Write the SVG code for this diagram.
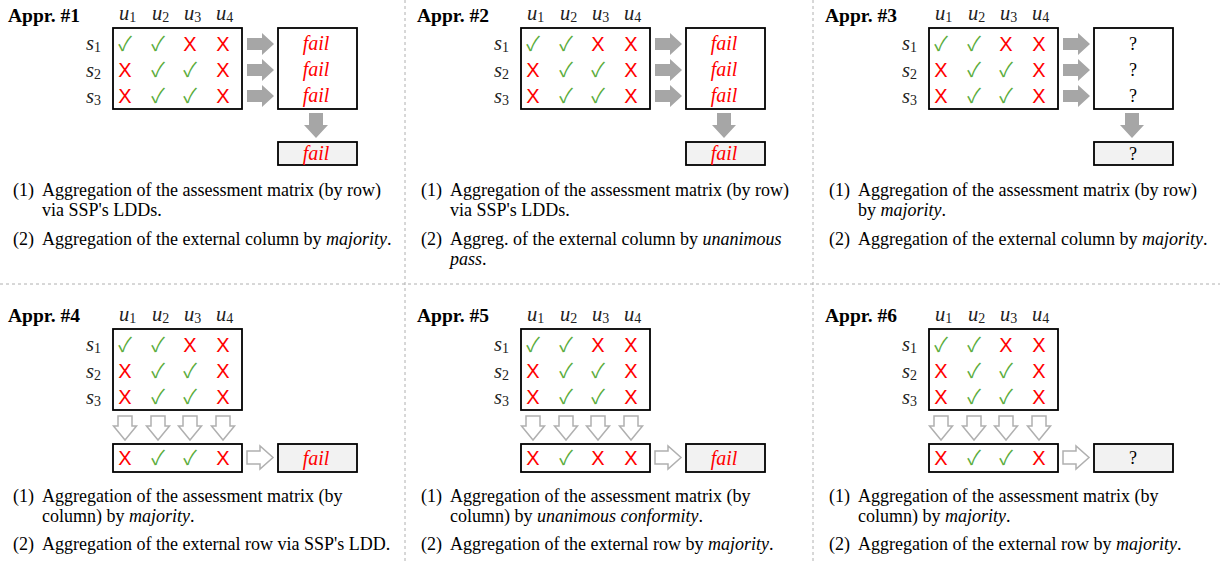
<svg xmlns="http://www.w3.org/2000/svg" width="1220" height="563" viewBox="0 0 1220 563">
<style>
.title{font-family:"Liberation Serif",serif;font-weight:bold;font-size:19.5px;fill:#000}
.var{font-family:"Liberation Serif",serif;font-style:italic;font-size:20.5px;fill:#222}
.sub{font-style:normal;font-size:14px}
.ok{font-family:"Noto Sans CJK JP","DejaVu Sans",sans-serif;font-size:20px;fill:#5aac3c;text-anchor:middle}
.no{font-family:"Liberation Sans",sans-serif;font-size:20px;fill:#ff0000;text-anchor:middle}
.fail{font-family:"Liberation Serif",serif;font-style:italic;font-size:20px;fill:#ff0000;text-anchor:middle}
.q{font-family:"Liberation Serif",serif;font-size:18px;fill:#000;text-anchor:middle}
.cap{font-family:"Liberation Serif",serif;font-size:18px;fill:#000}
.box{fill:#fff;stroke:#000;stroke-width:1.8}
.res{fill:#f2f2f2;stroke:#000;stroke-width:1.8}
.fa{fill:#a6a6a6;stroke:none}
.ha{fill:#fff;stroke:#b0b0b0;stroke-width:1.5}
.div{stroke:#b0b0b0;stroke-width:1;stroke-dasharray:3 3;fill:none}
</style>
<defs>
<g id="hdr">
<text class="var" x="119" y="20">u<tspan class="sub" dy="2">1</tspan></text>
<text class="var" x="152" y="20">u<tspan class="sub" dy="2">2</tspan></text>
<text class="var" x="184" y="20">u<tspan class="sub" dy="2">3</tspan></text>
<text class="var" x="216" y="20">u<tspan class="sub" dy="2">4</tspan></text>
<text class="var" x="86" y="50">s<tspan class="sub" dy="2">1</tspan></text>
<text class="var" x="86" y="77">s<tspan class="sub" dy="2">2</tspan></text>
<text class="var" x="86" y="103">s<tspan class="sub" dy="2">3</tspan></text>
</g>
<g id="matrix">
<rect class="box" x="113" y="28" width="129" height="81"/>
<text class="ok" x="125" y="51">✓</text><text class="ok" x="158" y="51">✓</text><text class="no" x="190" y="51">X</text><text class="no" x="223" y="51">X</text>
<text class="no" x="125" y="77">X</text><text class="ok" x="158" y="77">✓</text><text class="ok" x="190" y="77">✓</text><text class="no" x="223" y="77">X</text>
<text class="no" x="125" y="103">X</text><text class="ok" x="158" y="103">✓</text><text class="ok" x="190" y="103">✓</text><text class="no" x="223" y="103">X</text>
</g>
<g id="rarrows">
<polygon class="fa" points="247,38 262,38 262,33 274,44 262,55 262,50 247,50"/>
<polygon class="fa" points="247,64 262,64 262,59 274,70 262,81 262,76 247,76"/>
<polygon class="fa" points="247,90 262,90 262,85 274,96 262,107 262,102 247,102"/>
<polygon class="fa" points="309,113 323,113 323,125 328,125 316,138 304,125 309,125"/>
</g>
<g id="darrows">
<polygon class="ha" points="118,416 132,416 132,426 136.5,426 125,440 113.5,426 118,426"/>
<polygon class="ha" points="151,416 165,416 165,426 169.5,426 158,440 146.5,426 151,426"/>
<polygon class="ha" points="183,416 197,416 197,426 201.5,426 190,440 178.5,426 183,426"/>
<polygon class="ha" points="216,416 230,416 230,426 234.5,426 223,440 211.5,426 216,426"/>
<polygon class="ha" points="247,451 260,451 260,446 273,457.5 260,469 260,464 247,464"/>
</g>
</defs>

<g id="dividers">
<line class="div" x1="405" y1="0" x2="405" y2="563"/>
<line class="div" x1="813" y1="0" x2="813" y2="563"/>
<line class="div" x1="0" y1="284" x2="1220" y2="284"/>
</g>

<!-- Appr. #1 -->
<g id="appr1">
<text class="title" x="8" y="22">Appr. #1</text>
<g id="appr1-matrix"><use href="#hdr"/><use href="#matrix"/></g>
<g id="appr1-rows"><rect class="box" x="278" y="28" width="79" height="81"/>
<text class="fail" x="316" y="50">fail</text><text class="fail" x="316" y="76">fail</text><text class="fail" x="316" y="102">fail</text></g>
<g id="appr1-final"><rect class="res" x="278" y="142" width="79" height="23"/><text class="fail" x="316" y="160">fail</text></g>
<g id="appr1-connectors"><use href="#rarrows"/></g>
<g id="appr1-caption">
<text class="cap" x="13" y="196">(1)</text><text class="cap" x="42" y="196">Aggregation of the assessment matrix (by row)</text>
<text class="cap" x="42" y="216">via SSP's LDDs.</text>
<text class="cap" x="13" y="245">(2)</text><text class="cap" x="42" y="245">Aggregation of the external column by <tspan font-style="italic">majority</tspan>.</text>
</g>
</g>

<!-- Appr. #2 -->
<g id="appr2" transform="translate(408,0)">
<text class="title" x="9" y="22">Appr. #2</text>
<g id="appr2-matrix"><use href="#hdr"/><use href="#matrix"/></g>
<g id="appr2-rows"><rect class="box" x="278" y="28" width="79" height="81"/>
<text class="fail" x="316" y="50">fail</text><text class="fail" x="316" y="76">fail</text><text class="fail" x="316" y="102">fail</text></g>
<g id="appr2-final"><rect class="res" x="278" y="142" width="79" height="23"/><text class="fail" x="316" y="160">fail</text></g>
<g id="appr2-connectors"><use href="#rarrows"/></g>
<g id="appr2-caption">
<text class="cap" x="13" y="196">(1)</text><text class="cap" x="42" y="196">Aggregation of the assessment matrix (by row)</text>
<text class="cap" x="42" y="216">via SSP's LDDs.</text>
<text class="cap" x="13" y="245">(2)</text><text class="cap" x="42" y="245">Aggreg. of the external column by <tspan font-style="italic">unanimous</tspan></text>
<text class="cap" x="42" y="265"><tspan font-style="italic">pass</tspan>.</text>
</g>
</g>

<!-- Appr. #3 -->
<g id="appr3" transform="translate(816,0)">
<text class="title" x="9" y="22">Appr. #3</text>
<g id="appr3-matrix"><use href="#hdr"/><use href="#matrix"/></g>
<g id="appr3-rows"><rect class="box" x="278" y="28" width="79" height="81"/>
<text class="q" x="317" y="50">?</text><text class="q" x="317" y="76">?</text><text class="q" x="317" y="102">?</text></g>
<g id="appr3-final"><rect class="res" x="278" y="142" width="79" height="23"/><text class="q" x="317" y="160">?</text></g>
<g id="appr3-connectors"><use href="#rarrows"/></g>
<g id="appr3-caption">
<text class="cap" x="13" y="196">(1)</text><text class="cap" x="42" y="196">Aggregation of the assessment matrix (by row)</text>
<text class="cap" x="42" y="216">by <tspan font-style="italic">majority</tspan>.</text>
<text class="cap" x="13" y="245">(2)</text><text class="cap" x="42" y="245">Aggregation of the external column by <tspan font-style="italic">majority</tspan>.</text>
</g>
</g>

<!-- Appr. #4 -->
<g id="appr4" transform="translate(0,301)">
<text class="title" x="8" y="21">Appr. #4</text>
<g id="appr4-matrix"><use href="#hdr"/><use href="#matrix"/></g>
<g id="appr4-row"><rect class="box" x="113" y="143" width="129" height="28"/>
<text class="no" x="125" y="164">X</text><text class="ok" x="158" y="164">✓</text><text class="ok" x="190" y="164">✓</text><text class="no" x="223" y="164">X</text></g>
<g id="appr4-final"><rect class="res" x="278" y="143" width="79" height="28"/><text class="fail" x="316" y="164">fail</text></g>
<g id="appr4-connectors" transform="translate(0,-301)"><use href="#darrows"/></g>
<g id="appr4-caption">
<text class="cap" x="13" y="201">(1)</text><text class="cap" x="42" y="201">Aggregation of the assessment matrix (by</text>
<text class="cap" x="42" y="221">column) by <tspan font-style="italic">majority</tspan>.</text>
<text class="cap" x="13" y="249">(2)</text><text class="cap" x="42" y="249">Aggregation of the external row via SSP's LDD.</text>
</g>
</g>

<!-- Appr. #5 -->
<g id="appr5" transform="translate(408,301)">
<text class="title" x="9" y="21">Appr. #5</text>
<g id="appr5-matrix"><use href="#hdr"/><use href="#matrix"/></g>
<g id="appr5-row"><rect class="box" x="113" y="143" width="129" height="28"/>
<text class="no" x="125" y="164">X</text><text class="ok" x="158" y="164">✓</text><text class="no" x="190" y="164">X</text><text class="no" x="223" y="164">X</text></g>
<g id="appr5-final"><rect class="res" x="278" y="143" width="79" height="28"/><text class="fail" x="316" y="164">fail</text></g>
<g id="appr5-connectors" transform="translate(0,-301)"><use href="#darrows"/></g>
<g id="appr5-caption">
<text class="cap" x="13" y="201">(1)</text><text class="cap" x="42" y="201">Aggregation of the assessment matrix (by</text>
<text class="cap" x="42" y="221">column) by <tspan font-style="italic">unanimous conformity</tspan>.</text>
<text class="cap" x="13" y="249">(2)</text><text class="cap" x="42" y="249">Aggregation of the external row by <tspan font-style="italic">majority</tspan>.</text>
</g>
</g>

<!-- Appr. #6 -->
<g id="appr6" transform="translate(816,301)">
<text class="title" x="9" y="21">Appr. #6</text>
<g id="appr6-matrix"><use href="#hdr"/><use href="#matrix"/></g>
<g id="appr6-row"><rect class="box" x="113" y="143" width="129" height="28"/>
<text class="no" x="125" y="164">X</text><text class="ok" x="158" y="164">✓</text><text class="ok" x="190" y="164">✓</text><text class="no" x="223" y="164">X</text></g>
<g id="appr6-final"><rect class="res" x="278" y="143" width="79" height="28"/><text class="q" x="317" y="163">?</text></g>
<g id="appr6-connectors" transform="translate(0,-301)"><use href="#darrows"/></g>
<g id="appr6-caption">
<text class="cap" x="13" y="201">(1)</text><text class="cap" x="42" y="201">Aggregation of the assessment matrix (by</text>
<text class="cap" x="42" y="221">column) by <tspan font-style="italic">majority</tspan>.</text>
<text class="cap" x="13" y="249">(2)</text><text class="cap" x="42" y="249">Aggregation of the external row by <tspan font-style="italic">majority</tspan>.</text>
</g>
</g>
</svg>
